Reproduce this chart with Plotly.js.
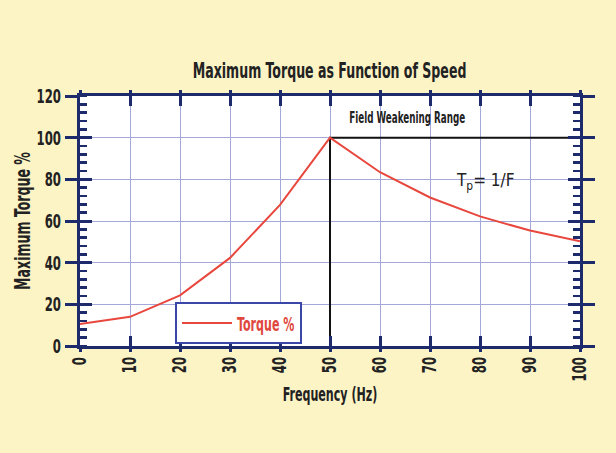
<!DOCTYPE html>
<html>
<head>
<meta charset="utf-8">
<script src="https://cdn.plot.ly/plotly-3.0.1.min.js"></script>
<style>html,body{margin:0;padding:0;background:#fdf4c6;}#chart{width:616px;height:453px;}</style>
</head>
<body>
<div id="chart"></div>
<script>
// Data
const frequencyHz = [0, 10, 20, 30, 40, 50, 60, 70, 80, 90, 100];
const torquePct   = [10.5, 14, 24.3, 42.3, 67.7, 100, 83.4, 71.3, 62.2, 55.4, 50.3];
const xTickVals = [0, 10, 20, 30, 40, 50, 60, 70, 80, 90, 100];
const yTickVals = [0, 20, 40, 60, 80, 100, 120];
// Field-weakening boundary (rated frequency / rated torque)
const boundaryX = [50, 50, 100];
const boundaryY = [0, 100, 100];

const FONT = '"DejaVu Sans Condensed", "Liberation Sans Narrow", Arial, sans-serif';
const NAVY = '#1d2a6b';
const GRID = '#a3a8d8';
const TXT = '#222222';
const SQUEEZE = 0.65; // horizontal squeeze to mimic a tall condensed typeface

const traces = [
  {x: boundaryX, y: boundaryY, mode: 'lines', line: {color: '#111', width: 2},
   showlegend: false, hoverinfo: 'skip'},
  {x: frequencyHz, y: torquePct, mode: 'lines', name: 'Torque %',
   line: {color: '#e8473d', width: 2}},
  {x: [null], y: [null], xaxis: 'x2', yaxis: 'y2', showlegend: false, hoverinfo: 'skip', mode: 'lines'}
];

const layout = {
  width: 616, height: 453,
  paper_bgcolor: '#fdf4c6',
  plot_bgcolor: '#ffffff',
  margin: {l: 80, r: 36, t: 96, b: 107},
  font: {family: FONT, color: TXT, size: 20},
  title: {text: 'Maximum Torque as Function of Speed', font: {family: FONT, size: 21.5, color: TXT, weight: 'bold'},
          x: 0.535, xanchor: 'center', y: 0.845, yanchor: 'middle'},
  showlegend: true,
  legend: {x: 0.19, xanchor: 'left', y: 0.175, yanchor: 'top',
           bgcolor: '#ffffff', bordercolor: '#3a47a8', borderwidth: 2,
           itemwidth: 50, tracegroupgap: 0,
           font: {family: FONT, size: 19, color: '#e0483e', weight: 'bold'}},
  xaxis: {
    range: [0, 100], tickvals: xTickVals, ticktext: xTickVals.map(String),
    tickangle: -90, tickfont: {family: FONT, size: 20, color: TXT, weight: 'bold'},
    showgrid: true, gridcolor: GRID, gridwidth: 1, zeroline: false,
    showline: true, linecolor: NAVY, linewidth: 3, mirror: 'ticks',
    ticks: 'inside', ticklen: 10, tickwidth: 3, tickcolor: NAVY,
    title: {text: 'Frequency (Hz)', font: {family: FONT, size: 19, color: TXT, weight: 'bold'}, standoff: 0}
  },
  xaxis2: {
    overlaying: 'x', anchor: 'y2', matches: 'x', range: [0, 100], tickvals: xTickVals,
    showticklabels: false, showgrid: false, zeroline: false, showline: false,
    ticks: 'outside', ticklen: 5, tickwidth: 3, tickcolor: NAVY, mirror: 'ticks'
  },
  yaxis: {
    range: [0, 120], tickvals: yTickVals, ticktext: yTickVals.map(String),
    tickfont: {family: FONT, size: 20, color: TXT, weight: 'bold'},
    showgrid: true, gridcolor: GRID, gridwidth: 1, zeroline: false,
    showline: true, linecolor: NAVY, linewidth: 3, mirror: 'ticks',
    ticks: 'outside', ticklen: 12, tickwidth: 3, tickcolor: NAVY,
    minor: {dtick: 4, ticks: 'inside', ticklen: 7, tickwidth: 2.5, tickcolor: NAVY, showgrid: false},
    title: {text: 'Maximum Torque %', font: {family: FONT, size: 21.5, color: TXT, weight: 'bold'}, standoff: 0}
  },
  yaxis2: {
    overlaying: 'y', anchor: 'x2', matches: 'y', range: [0, 120], tickvals: yTickVals,
    showticklabels: false, showgrid: false, zeroline: false, showline: false,
    ticks: 'inside', ticklen: 12, tickwidth: 3, tickcolor: NAVY, mirror: 'ticks'
  },
  annotations: [
    {x: 65.3, y: 109.5, xref: 'x', yref: 'y', text: 'Field Weakening Range', showarrow: false,
     font: {family: FONT, size: 15, color: TXT, weight: 'bold'}},
    {x: 81, y: 79, xref: 'x', yref: 'y', text: 'T<sub>p</sub>= 1/F', showarrow: false,
     font: {family: FONT, size: 17, color: TXT}}
  ]
};

function squeezeText(gd, k) {
  gd.querySelectorAll('text').forEach(t => {
    if (t.closest('.annotation[data-index="1"]')) return;
    const x = parseFloat(t.getAttribute('x')) || 0;
    const y = parseFloat(t.getAttribute('y')) || 0;
    const tr = t.getAttribute('transform') || '';
    t.setAttribute('transform', tr + ' translate(' + x + ',' + y + ') scale(' + k + ',1) translate(' + (-x) + ',' + (-y) + ')');
  });
  // axis titles were spaced for the unsqueezed tick labels; pull them back in
  const yt = gd.querySelector('text.ytitle');
  if (yt) yt.setAttribute('transform', 'translate(10,0) ' + (yt.getAttribute('transform') || ''));
  const xt = gd.querySelector('text.xtitle');
  if (xt) xt.setAttribute('transform', 'translate(0,-5) ' + (xt.getAttribute('transform') || ''));
  const leg = gd.querySelector('.legend');
  if (leg) {
    const bg = leg.querySelector('rect.bg');
    const txt = leg.querySelector('text.legendtext');
    if (bg && txt) {
      const b = bg.getBoundingClientRect();
      const r = txt.getBoundingClientRect();
      bg.setAttribute('width', Math.round(r.right - b.left + 7));
    }
  }
}

Plotly.newPlot('chart', traces, layout, {displayModeBar: false, staticPlot: true})
  .then(gd => squeezeText(gd, SQUEEZE));
</script>
</body>
</html>
